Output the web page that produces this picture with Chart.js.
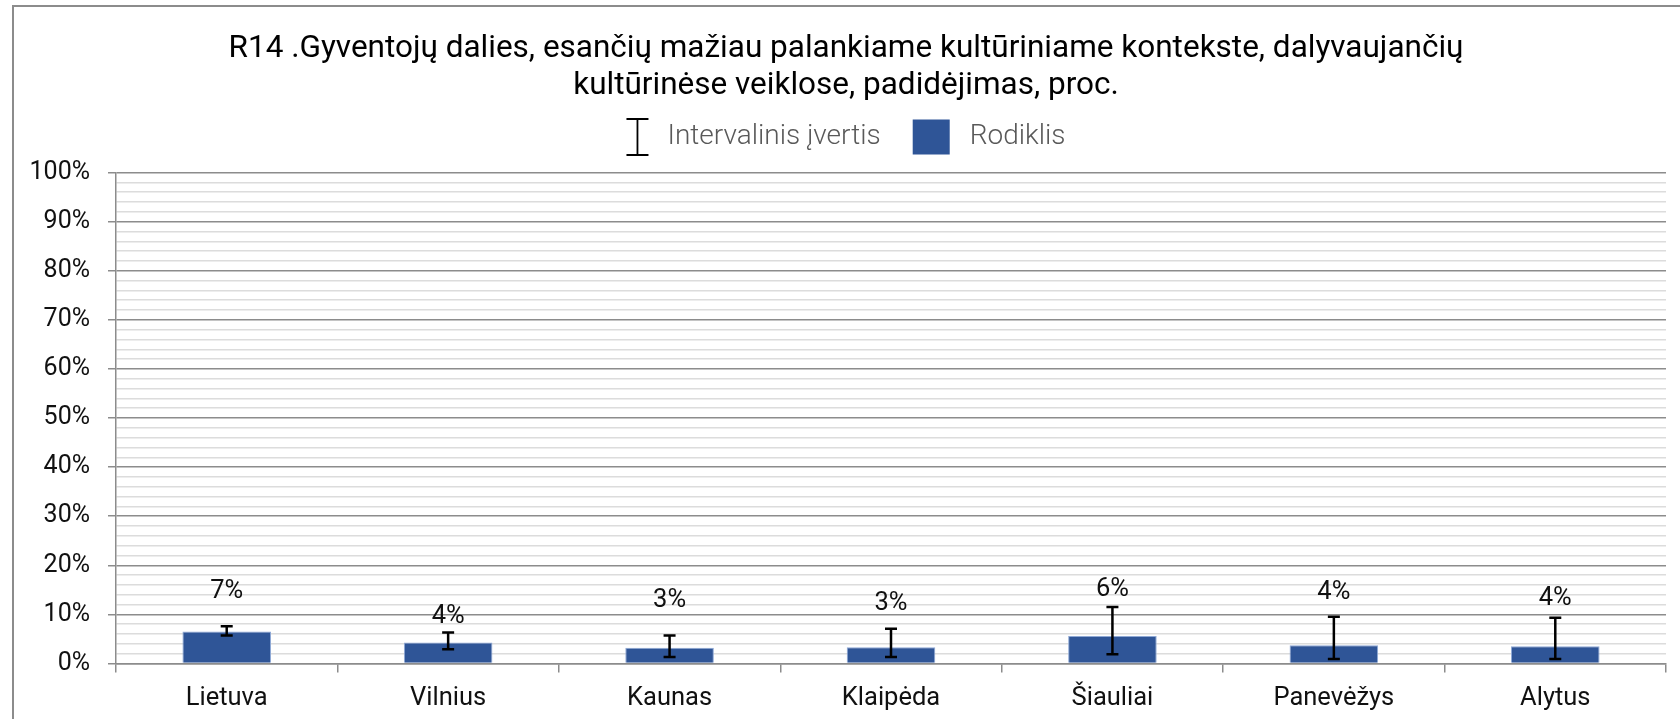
<!DOCTYPE html>
<html lang="lt">
<head>
<meta charset="utf-8">
<title>R14 rodiklis</title>
<script src="https://cdn.jsdelivr.net/npm/chart.js@4.4.1/dist/chart.umd.min.js"></script>
<style>
    html, body { margin: 0; padding: 0; background: #fff; overflow: hidden; }
    .frame {
        position: absolute; left: 12px; top: 5px; width: 1700px; height: 760px;
        border-left: 2px solid #8c8c8c; border-top: 2px solid #8c8c8c;
    }
    .chart-box { position: absolute; left: 0; top: 0; width: 1680px; height: 719px; }
</style>
</head>
<body>
<div class="frame"></div>
<div class="chart-box"><canvas id="r14Chart"></canvas></div>
<script>
// Regions and indicator values (percent)
const regions = ['Lietuva', 'Vilnius', 'Kaunas', 'Klaipėda', 'Šiauliai', 'Panevėžys', 'Alytus'];
const rodiklis = [6.5, 4.3, 3.2, 3.3, 5.6, 3.7, 3.5];
// Interval estimate bounds
const intervalLow = [5.7, 2.9, 1.3, 1.3, 1.9, 0.9, 0.9];
const intervalHigh = [7.6, 6.3, 5.7, 7.1, 11.5, 9.5, 9.3];
// Labelled y ticks (minor lines every 2%)
const yMajorTicks = [0, 10, 20, 30, 40, 50, 60, 70, 80, 90, 100];
// How far each value label sits above its bar, px
const labelLift = [40, 26, 47, 44, 46, 53, 48];

const BAR_BLUE = '#2f5597';
const TEXT_COLOR = '#111111';

Chart.defaults.font.family = 'Roboto, "Noto Sans", sans-serif';
Chart.defaults.font.size = 25;
Chart.defaults.color = TEXT_COLOR;

// Black I-beam error bars on top of each bar
const errorBarPlugin = {
    id: 'errorBars',
    afterDatasetsDraw(chart) {
        const ctx = chart.ctx;
        const yScale = chart.scales.y;
        const meta = chart.getDatasetMeta(0);
        ctx.save();
        ctx.strokeStyle = '#000';
        ctx.lineWidth = 2.5;
        meta.data.forEach((bar, i) => {
            const top = yScale.getPixelForValue(intervalHigh[i]);
            const bottom = yScale.getPixelForValue(intervalLow[i]);
            ctx.beginPath();
            ctx.moveTo(bar.x, top);
            ctx.lineTo(bar.x, bottom);
            ctx.moveTo(bar.x - 6, top);
            ctx.lineTo(bar.x + 6, top);
            ctx.moveTo(bar.x - 6, bottom);
            ctx.lineTo(bar.x + 6, bottom);
            ctx.stroke();
        });
        ctx.restore();
    }
};

// Rounded value labels above the bars
const valueLabelPlugin = {
    id: 'valueLabels',
    afterDatasetsDraw(chart) {
        const ctx = chart.ctx;
        const meta = chart.getDatasetMeta(0);
        ctx.save();
        ctx.font = '25.5px Roboto, "Noto Sans", sans-serif';
        ctx.fillStyle = TEXT_COLOR;
        ctx.textAlign = 'center';
        ctx.textBaseline = 'middle';
        meta.data.forEach((bar, i) => {
            ctx.fillText(Math.round(rodiklis[i]) + '%', bar.x, bar.y - labelLift[i]);
        });
        ctx.restore();
    }
};

// Legend row under the title: error bar symbol + bar swatch
const legendRowPlugin = {
    id: 'legendRow',
    afterDraw(chart) {
        const ctx = chart.ctx;
        const items = ['Intervalinis įvertis', 'Rodiklis'];
        const cy = 137;
        ctx.save();
        ctx.font = '300 28px Roboto, "Noto Sans", sans-serif';
        const w1 = ctx.measureText(items[0]).width;
        const w2 = ctx.measureText(items[1]).width;
        const total = 22 + 19 + w1 + 32 + 37 + 20 + w2;
        const center = (chart.titleBlock.left + chart.titleBlock.right) / 2;
        let x = center - total / 2;

        // I-beam symbol
        ctx.strokeStyle = '#000';
        ctx.lineWidth = 1.8;
        ctx.beginPath();
        ctx.moveTo(x + 11, cy - 18);
        ctx.lineTo(x + 11, cy + 18);
        ctx.moveTo(x, cy - 18);
        ctx.lineTo(x + 22, cy - 18);
        ctx.moveTo(x, cy + 18);
        ctx.lineTo(x + 22, cy + 18);
        ctx.stroke();
        x += 22 + 19;

        ctx.fillStyle = '#595959';
        ctx.textAlign = 'left';
        ctx.textBaseline = 'middle';
        ctx.fillText(items[0], x, cy);
        x += w1 + 32;

        ctx.fillStyle = BAR_BLUE;
        ctx.fillRect(x, cy - 17.5, 37, 35);
        x += 37 + 20;

        ctx.fillStyle = '#595959';
        ctx.fillText(items[1], x, cy);
        ctx.restore();
    }
};

const ctx = document.getElementById('r14Chart').getContext('2d');
new Chart(ctx, {
    type: 'bar',
    data: {
        labels: regions,
        datasets: [{
            label: 'Rodiklis',
            data: rodiklis,
            backgroundColor: BAR_BLUE,
            borderColor: '#8fa9d6',
            borderWidth: 1,
            categoryPercentage: 1,
            barPercentage: 0.4
        }]
    },
    options: {
        responsive: true,
        maintainAspectRatio: false,
        animation: false,
        layout: {
            padding: { left: 26, right: 14, top: 0, bottom: 0 }
        },
        plugins: {
            legend: { display: false },
            tooltip: { enabled: false },
            title: {
                display: true,
                text: [
                    'R14 .Gyventojų dalies, esančių mažiau palankiame kultūriniame kontekste, dalyvaujančių',
                    'kultūrinėse veiklose, padidėjimas, proc.'
                ],
                color: '#000',
                font: { size: 31.5, weight: 'normal', lineHeight: 1.175 },
                padding: { top: 30.5, bottom: 68 }
            }
        },
        scales: {
            x: {
                afterFit: function(scale) { scale.height = 55.5; },
                grid: {
                    offset: true,
                    drawOnChartArea: false,
                    color: '#8c8c8c',
                    lineWidth: 1.5,
                    tickLength: 9
                },
                border: { color: '#8c8c8c', width: 1.5 },
                ticks: { padding: 11, color: TEXT_COLOR, font: { size: 25.5 } }
            },
            y: {
                min: 0,
                max: 100,
                afterFit: function(scale) { scale.width = 90; },
                grid: {
                    color: c => yMajorTicks.includes(c.tick.value) ? '#8c8c8c' : '#dcdcdc',
                    tickColor: c => yMajorTicks.includes(c.tick.value) ? '#8c8c8c' : 'rgba(0,0,0,0)',
                    lineWidth: 1.5,
                    tickLength: 8
                },
                border: { color: '#8c8c8c', width: 1.5 },
                ticks: {
                    stepSize: 2,
                    autoSkip: false,
                    padding: 18,
                    color: TEXT_COLOR,
                    font: { size: 25 },
                    callback: v => yMajorTicks.includes(v) ? v + '%' : ''
                }
            }
        }
    },
    plugins: [errorBarPlugin, valueLabelPlugin, legendRowPlugin]
});
</script>
</body>
</html>
